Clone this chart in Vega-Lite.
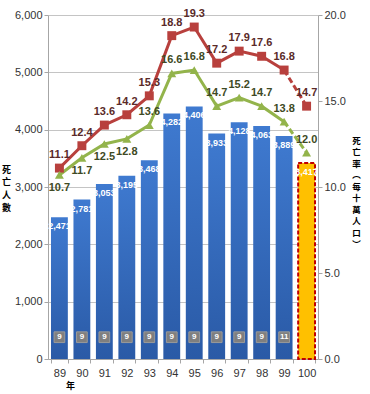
{
  "$schema": "https://vega.github.io/schema/vega-lite/v6.json",
  "width": 270,
  "height": 344,
  "autosize": "none",
  "padding": {"left": 48, "top": 15, "right": 52, "bottom": 35},
  "background": "white",
  "config": {"view": {"stroke": null}, "font": "Liberation Sans"},
  "data": {
    "values": [
      {"year": 89, "deaths": 2471, "rate1": 11.1, "rate2": 10.7, "count": 9},
      {"year": 90, "deaths": 2781, "rate1": 12.4, "rate2": 11.7, "count": 9},
      {"year": 91, "deaths": 3053, "rate1": 13.6, "rate2": 12.5, "count": 9},
      {"year": 92, "deaths": 3195, "rate1": 14.2, "rate2": 12.8, "count": 9},
      {"year": 93, "deaths": 3468, "rate1": 15.3, "rate2": 13.6, "count": 9},
      {"year": 94, "deaths": 4282, "rate1": 18.8, "rate2": 16.6, "count": 9},
      {"year": 95, "deaths": 4406, "rate1": 19.3, "rate2": 16.8, "count": 9},
      {"year": 96, "deaths": 3933, "rate1": 17.2, "rate2": 14.7, "count": 9},
      {"year": 97, "deaths": 4128, "rate1": 17.9, "rate2": 15.2, "count": 9},
      {"year": 98, "deaths": 4063, "rate1": 17.6, "rate2": 14.7, "count": 9},
      {"year": 99, "deaths": 3889, "rate1": 16.8, "rate2": 13.8, "count": 11},
      {"year": 100, "deaths": 3417, "rate1": 14.7, "rate2": 12.0, "count": null}
    ]
  },
  "encoding": {
    "x": {
      "field": "year",
      "type": "ordinal",
      "sort": "ascending",
      "scale": {"paddingInner": 0.25, "paddingOuter": 0.133},
      "axis": {
        "labelAngle": 0,
        "labelFontSize": 11,
        "labelColor": "#333333",
        "labelPadding": 4,
        "tickBand": "extent",
        "tickSize": 4,
        "tickColor": "#a6a6a6",
        "domainColor": "#a6a6a6",
        "title": "年",
        "titleFont": "Noto Sans CJK TC",
        "titleFontSize": 9,
        "titleFontWeight": "bold",
        "titleColor": "#000000",
        "titleX": 22,
        "titleY": 26,
        "titleBaseline": "middle"
      }
    }
  },
  "layer": [
    {
      "encoding": {
        "y": {
          "field": "deaths",
          "type": "quantitative",
          "scale": {"domain": [0, 6000]},
          "axis": {
            "orient": "left",
            "values": [0, 1000, 2000, 3000, 4000, 5000, 6000],
            "format": ",.0f",
            "labelFontSize": 11,
            "labelColor": "#333333",
            "tickSize": 4,
            "tickColor": "#a6a6a6",
            "domainColor": "#a6a6a6",
            "grid": true,
            "gridColor": "#c4c4c4",
            "title": ["死", "亡", "人", "數"],
            "titleFont": "Noto Sans CJK TC",
            "titleFontSize": 9,
            "titleFontWeight": "bold",
            "titleColor": "#000000",
            "titleAngle": 0,
            "titleAlign": "center",
            "titleBaseline": "top",
            "titleLineHeight": 12.7,
            "titleX": -42,
            "titleY": 150
          }
        }
      },
      "layer": [
        {
          "transform": [{"filter": "datum.year < 100"}],
          "mark": {
            "type": "bar",
            "color": {
              "gradient": "linear",
              "x1": 0, "y1": 0, "x2": 0, "y2": 1,
              "stops": [
                {"offset": 0, "color": "#3f7ad0"},
                {"offset": 1, "color": "#2a5aa6"}
              ]
            }
          }
        },
        {
          "transform": [{"filter": "datum.year == 100"}],
          "mark": {
            "type": "bar",
            "fill": "#ffc000",
            "stroke": "#c00000",
            "strokeWidth": 2,
            "strokeDash": [4, 2]
          }
        },
        {
          "mark": {
            "type": "text",
            "dy": 9,
            "baseline": "middle",
            "fontSize": 9,
            "fontWeight": "bold",
            "color": "#ffffff"
          },
          "encoding": {"text": {"field": "deaths", "type": "quantitative", "format": ",.0f"}}
        },
        {
          "transform": [{"filter": "datum.count != null"}],
          "mark": {
            "type": "point",
            "shape": "square",
            "filled": true,
            "size": 115,
            "color": "#7f7f7f",
            "stroke": "#9a9a9a",
            "strokeWidth": 1,
            "opacity": 1
          },
          "encoding": {"y": {"datum": 380, "type": "quantitative"}}
        },
        {
          "transform": [{"filter": "datum.count != null"}],
          "mark": {
            "type": "text",
            "baseline": "middle",
            "fontSize": 8,
            "fontWeight": "bold",
            "color": "#ffffff"
          },
          "encoding": {
            "y": {"datum": 380, "type": "quantitative"},
            "text": {"field": "count", "type": "quantitative"}
          }
        }
      ]
    },
    {
      "transform": [{"fold": ["rate1", "rate2"], "as": ["series", "rate"]}],
      "encoding": {
        "y": {
          "field": "rate",
          "type": "quantitative",
          "scale": {"domain": [0, 20]},
          "axis": {
            "orient": "right",
            "values": [0, 5, 10, 15, 20],
            "format": ".1f",
            "labelFontSize": 11,
            "labelColor": "#333333",
            "tickSize": 4,
            "tickColor": "#a6a6a6",
            "domainColor": "#a6a6a6",
            "grid": false,
            "title": ["死", "亡", "率", "︵", "每", "十", "萬", "人", "口", "︶"],
            "titleFont": "Noto Sans CJK TC",
            "titleFontSize": 8.5,
            "titleFontWeight": "bold",
            "titleColor": "#000000",
            "titleAngle": 0,
            "titleAlign": "center",
            "titleBaseline": "top",
            "titleLineHeight": 11.5,
            "titleX": 38,
            "titleY": 121
          }
        },
        "color": {
          "field": "series",
          "type": "nominal",
          "scale": {"domain": ["rate1", "rate2"], "range": ["#b8403d", "#93b44b"]},
          "legend": null
        }
      },
      "layer": [
        {
          "transform": [{"filter": "datum.year <= 99"}],
          "mark": {"type": "line", "strokeWidth": 3}
        },
        {
          "transform": [{"filter": "datum.year >= 99"}],
          "mark": {"type": "line", "strokeWidth": 3, "strokeDash": [6, 3]}
        },
        {
          "mark": {"type": "point", "filled": true, "opacity": 1, "size": 80, "strokeWidth": 0},
          "encoding": {
            "shape": {
              "field": "series",
              "type": "nominal",
              "scale": {"domain": ["rate1", "rate2"], "range": ["square", "triangle-up"]},
              "legend": null
            }
          }
        },
        {
          "transform": [{"filter": "datum.series == 'rate1'"}],
          "mark": {"type": "text", "dy": -13, "baseline": "middle", "fontSize": 11, "fontWeight": "bold", "color": "#5a2a28"},
          "encoding": {"text": {"field": "rate", "type": "quantitative", "format": ".1f"}, "color": {"value": "#5a2a28"}}
        },
        {
          "transform": [{"filter": "datum.series == 'rate2' && datum.year >= 93"}],
          "mark": {"type": "text", "dy": -13, "baseline": "middle", "fontSize": 11, "fontWeight": "bold", "color": "#404a24"},
          "encoding": {"text": {"field": "rate", "type": "quantitative", "format": ".1f"}, "color": {"value": "#404a24"}}
        },
        {
          "transform": [{"filter": "datum.series == 'rate2' && datum.year < 93"}],
          "mark": {"type": "text", "dy": 13, "baseline": "middle", "fontSize": 11, "fontWeight": "bold", "color": "#404a24"},
          "encoding": {"text": {"field": "rate", "type": "quantitative", "format": ".1f"}, "color": {"value": "#404a24"}}
        }
      ]
    }
  ],
  "resolve": {"scale": {"y": "independent", "color": "independent"}}
}
